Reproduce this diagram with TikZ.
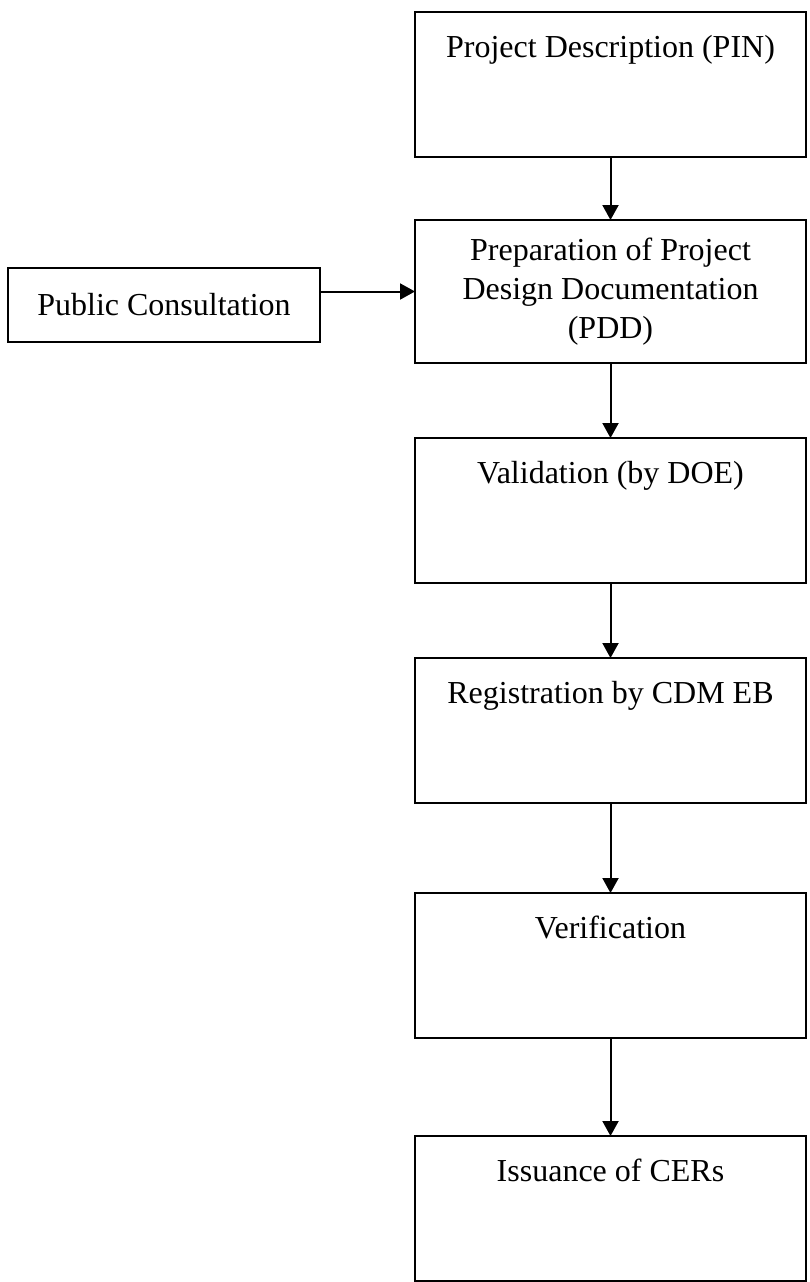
\documentclass[tikz,border=0pt]{standalone}
\usepackage{fontspec}
\setmainfont{Liberation Serif}
\usepackage{tikz}
\usetikzlibrary{arrows.meta, positioning}
\tikzset{
  stage/.style={rectangle, draw=black, line width=2.6pt, inner sep=0pt, outer sep=0pt,
                minimum width=391pt, text height=45pt, text depth=100pt,
                align=center, font=\fontsize{32}{39}\selectfont},
  prepbox/.style={rectangle, draw=black, line width=2.6pt, inner sep=0pt, outer sep=0pt,
                  minimum width=391pt, minimum height=143pt,
                  align=center, font=\fontsize{32}{39}\selectfont},
  sidebox/.style={rectangle, draw=black, line width=2.6pt, inner sep=0pt, outer sep=0pt,
                  minimum width=312pt, minimum height=74pt,
                  align=center, font=\fontsize{32}{39}\selectfont},
  arrow/.style={-{Triangle[length=15pt, width=16pt]}, line width=2pt, black},
}
\begin{document}
\begin{tikzpicture}[x=1pt, y=1pt]

  \useasboundingbox (0,0) rectangle (810,-1282);

  % --- Main chain ---
  \node[stage] (pin) at (610.5,-84.5) {Project Description (PIN)};
  \node[prepbox, below=63pt of pin] (pdd)
        {Preparation of Project\\ Design Documentation\\ (PDD)};
  \node[stage, below=75pt of pdd] (valid) {Validation (by DOE)};
  \node[stage, below=75pt of valid] (regist) {Registration by CDM EB};
  \node[stage, below=90pt of regist] (verif) {Verification};
  \node[stage, below=98pt of verif] (issue) {Issuance of CERs};

  % --- Side input ---
  \node[sidebox, left=95pt of pdd, yshift=-13.5pt] (public) {Public Consultation};

  % --- Arrows ---
  \draw[arrow] (pin)    -- (pdd);
  \draw[arrow] (public.east |- pdd.west) -- (pdd.west);
  \draw[arrow] (pdd)    -- (valid);
  \draw[arrow] (valid)  -- (regist);
  \draw[arrow] (regist) -- (verif);
  \draw[arrow] (verif)  -- (issue);

\end{tikzpicture}
\end{document}
